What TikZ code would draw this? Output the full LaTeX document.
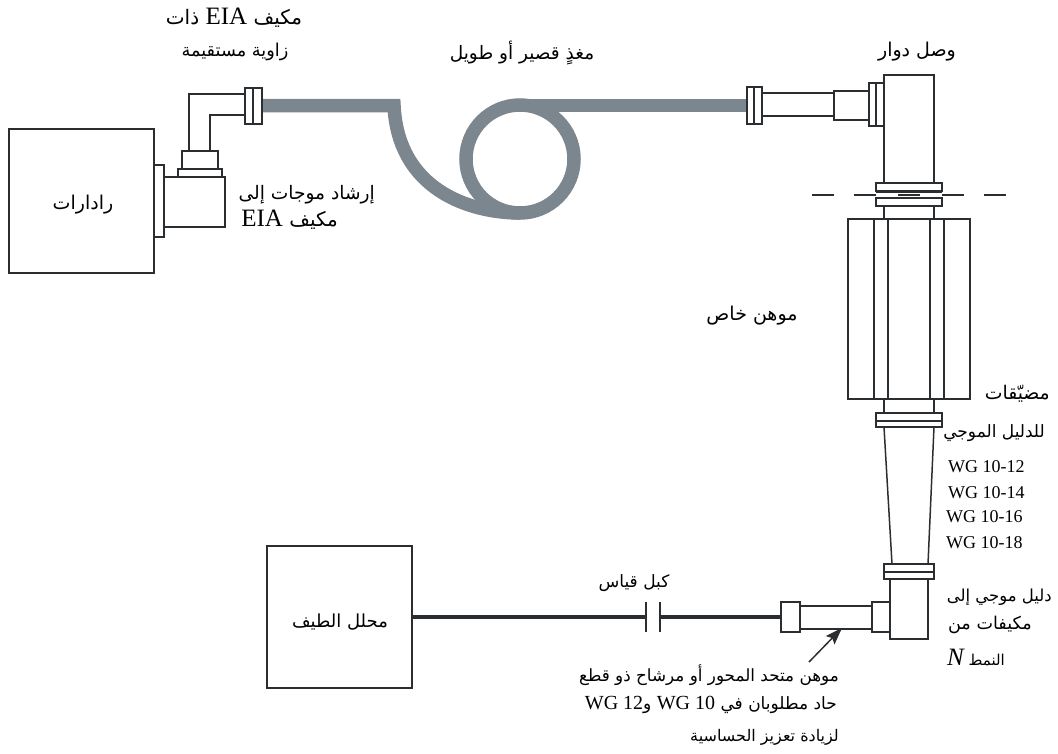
\documentclass[tikz,border=0pt]{standalone}
\usepackage{fontspec}
\setmainfont{Liberation Serif}
\newfontfamily\arabicfont[Script=Arabic]{DejaVu Sans}
\TeXXeTstate=1
\usetikzlibrary{arrows.meta}
\definecolor{ink}{HTML}{2B2E30}
\definecolor{cablegrey}{HTML}{7B868E}
\newcommand{\arsz}[1]{\fontsize{#1}{#1}\arabicfont}
\newcommand{\lasz}[1]{\rmfamily\fontsize{#1}{#1}\selectfont}
\tikzset{
 part/.style={draw=ink,line width=1.5pt,fill=white},
 ln/.style={draw=ink,line width=1.5pt},
 cut/.style={draw=ink,line width=1.3pt},
 feed/.style={draw=cablegrey,line width=13.5pt,line join=miter},
 coax/.style={draw=ink,line width=3.2pt},
 lab/.style={inner sep=0pt,align=center},
 wg/.style={font=\fontsize{18}{18}\selectfont,inner sep=0pt,anchor=west},
}
\begin{document}
\begin{tikzpicture}[x=1pt,y=-1pt]
\useasboundingbox (0,0) rectangle (1058,753);
% feed
\coordinate (fa) at (262,105.5);
\coordinate (fb) at (394,105.5);
\coordinate (fc) at (520,213);
\coordinate (fd) at (747,105.5);
\coordinate (fe) at (520,105.5);
\draw[feed] (fa) -- (fb) .. controls (398,190) and (470,213) .. (fc);
\draw[feed] (520,159) circle[radius=54];
\draw[feed] (fe) -- (fd);
% radar
\node[part,minimum width=145pt,minimum height=144pt,inner sep=0pt] (radar) at (81.5,201) {};
\node[lab] (lr) at (83,205) {\arsz{19}\beginR رادارات\endR};
\draw[part] (154,165) rectangle (164,237);
\draw[part] (164,177) rectangle (225,227);
\draw[part] (178,169) rectangle (222,177);
\draw[part] (182,151) rectangle (218,169);
\draw[ln] (189,151) -- (189,94) -- (245,94);
\draw[ln] (210,151) -- (210,115) -- (245,115);
\draw[part] (245,88) rectangle (262,124);
\draw[ln] (253,88) -- (253,124);
% rotary section
\draw[part] (747,87) rectangle (762,124);
\draw[ln] (754,87) -- (754,124);
\draw[part] (762,93) rectangle (834,116);
\draw[part] (834,91) rectangle (869,120);
\draw[part] (869,83) rectangle (884,126);
\draw[ln] (876,83) -- (876,126);
\draw[part] (884,75) rectangle (934,183);
\draw[cut] (812,195) -- (834,195);
\draw[cut] (854,195) -- (876,195);
\draw[cut] (876,192) -- (942,192);
\draw[cut] (876,198) -- (942,198);
\draw[draw=ink,line width=2.4pt] (898,195) -- (920,195);
\draw[cut] (942,195) -- (964,195);
\draw[cut] (984,195) -- (1006,195);
\draw[part] (876,183) rectangle (942,191);
\draw[part] (876,198) rectangle (942,206);
\draw[part] (884,206) rectangle (934,219);
% attenuator
\draw[part] (848,219) rectangle (970,399);
\foreach \x in {874,888,930,944} \draw[ln] (\x,219) -- (\x,399);
\draw[part] (884,399) rectangle (934,413);
\draw[part] (876,413) rectangle (942,427);
\draw[ln] (876,421) -- (942,421);
\draw[ln] (884,427) -- (892,564);
\draw[ln] (934,427) -- (928,564);
\draw[part] (884,564) rectangle (934,579);
\draw[ln] (884,572) -- (934,572);
\draw[part] (890,579) rectangle (928,639);
\draw[part] (872,602) rectangle (890,632);
\draw[part] (800,606) rectangle (872,629);
\node[part,minimum width=19pt,minimum height=30pt,inner sep=0pt,outer sep=0pt] (nflange) at (790.5,617) {};
% analyser
\node[part,minimum width=145pt,minimum height=142pt,inner sep=0pt] (sa) at (339.5,617) {};
\node[lab] (ls) at (340,622) {\arsz{18}\beginR محلل الطيف\endR};
\coordinate (gl) at (646,617);
\coordinate (gr) at (660,617);
\draw[coax] (sa.east) -- (gl);
\draw[coax] (gr) -- (nflange.west);
\draw[ln] (646,602) -- (646,632);
\draw[ln] (660,602) -- (660,632);
\coordinate (ataa) at (809,662);
\coordinate (atab) at (842,628);
\draw[ln,-{Stealth[length=17pt,width=12pt,inset=3pt]}] (ataa) -- (atab);
% labels
\node[lab] (l1) at (234,18) {\arsz{20}\beginR مكيف \beginL{\lasz{25}EIA}\endL{} ذات\endR};
\node[lab] (l2) at (235,52) {\arsz{17.7}\beginR زاوية مستقيمة\endR};
\node[lab] (l3) at (522,53) {\arsz{18.5}\beginR مغذٍ قصير أو طويل\endR};
\node[lab] (l4) at (917,52) {\arsz{19}\beginR وصل دوار\endR};
\node[lab,anchor=east] (l5) at (375,195) {\arsz{18.6}\beginR إرشاد موجات إلى\endR};
\node[lab,anchor=east] (l6) at (338,220) {\arsz{20}\beginR مكيف \beginL{\lasz{25}EIA}\endL\endR};
\node[lab] (l7) at (752,316) {\arsz{19}\beginR موهن خاص\endR};
\node[lab,anchor=east] (l8) at (1050,394) {\arsz{18.8}\beginR مضيّقات\endR};
\node[lab,anchor=east] (l9) at (1045,433) {\arsz{17}\beginR للدليل الموجي\endR};
\node[wg] (w1) at (948,467) {WG 10-12};
\node[wg] (w2) at (948,493) {WG 10-14};
\node[wg] (w3) at (946,517) {WG 10-16};
\node[wg] (w4) at (946,543) {WG 10-18};
\node[lab,anchor=east] (l10) at (1052,597) {\arsz{16.5}\beginR دليل موجي إلى\endR};
\node[lab,anchor=east] (l11) at (1032,625) {\arsz{17.6}\beginR مكيفات من\endR};
\node[lab,anchor=east] (l12) at (1005,657) {\arsz{15}\beginR النمط \beginL{\lasz{25}\itshape N}\endL\endR};
\node[lab] (l13) at (634,583) {\arsz{17}\beginR كبل قياس\endR};
\node[lab,anchor=east] (l14) at (839,675) {\arsz{16.8}\beginR موهن متحد المحور أو مرشاح ذو قطع\endR};
\node[lab,anchor=east] (l15) at (837,705) {\arsz{17}\beginR حاد مطلوبان في \beginL{\lasz{20}WG 10}\endL{} و\beginL{\lasz{20}WG 12}\endL\endR};
\node[lab,anchor=east] (l16) at (839,737) {\arsz{16}\beginR لزيادة تعزيز الحساسية\endR};
\end{tikzpicture}
\end{document}
